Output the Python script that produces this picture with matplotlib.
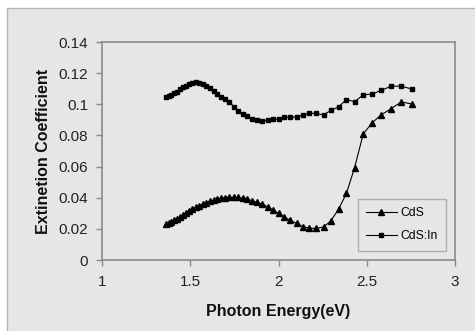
import matplotlib
matplotlib.use("Agg")
import matplotlib.pyplot as plt
from matplotlib.patches import Rectangle

plt.rcParams['font.family'] = ['Liberation Sans', 'DejaVu Sans']

# Photon energy (eV) of each measured point
energy = [1.363, 1.378, 1.393, 1.409, 1.425, 1.442, 1.459, 1.476, 1.494, 1.512,
          1.531, 1.550, 1.570, 1.590, 1.610, 1.632, 1.653, 1.676, 1.699, 1.722,
          1.746, 1.771, 1.797, 1.824, 1.851, 1.879, 1.908, 1.938, 1.968, 2.000,
          2.033, 2.067, 2.102, 2.138, 2.175, 2.214, 2.255, 2.296, 2.340, 2.385,
          2.431, 2.480, 2.531, 2.583, 2.638, 2.696, 2.756]

cds = [0.0232, 0.0240, 0.0246, 0.0254, 0.0262, 0.0274, 0.0288, 0.0302, 0.0316, 0.0330,
       0.0340, 0.0350, 0.0358, 0.0368, 0.0376, 0.0385, 0.0391, 0.0397, 0.0401, 0.0403,
       0.0403, 0.0402, 0.0397, 0.0390, 0.0381, 0.0370, 0.0358, 0.0342, 0.0322, 0.0300,
       0.0276, 0.0255, 0.0235, 0.0215, 0.0204, 0.0203, 0.0212, 0.0250, 0.0326, 0.0428,
       0.0593, 0.0809, 0.0882, 0.0933, 0.0972, 0.1015, 0.1002]

cds_in = [0.1049, 0.1054, 0.1062, 0.1072, 0.1082, 0.1095, 0.1108, 0.1120, 0.1130, 0.1137,
          0.1141, 0.1136, 0.1128, 0.1120, 0.1107, 0.1088, 0.1068, 0.1048, 0.1032, 0.1015,
          0.0985, 0.0960, 0.0940, 0.0922, 0.0908, 0.0897, 0.0890, 0.0900, 0.0903, 0.0904,
          0.0916, 0.0918, 0.0918, 0.0931, 0.0942, 0.0942, 0.0931, 0.0961, 0.0983, 0.1030,
          0.1017, 0.1060, 0.1066, 0.1090, 0.1116, 0.1116, 0.1098]

series_labels = ["CdS", "CdS:In"]
x_ticks = [1, 1.5, 2, 2.5, 3]
x_tick_labels = ["1", "1.5", "2", "2.5", "3"]
y_ticks = [0, 0.02, 0.04, 0.06, 0.08, 0.10, 0.12, 0.14]
y_tick_labels = ["0", "0.02", "0.04", "0.06", "0.08", "0.1", "0.12", "0.14"]

bg = '#e6e6e6'
fig = plt.figure(figsize=(4.75, 3.31), dpi=100, facecolor='white')
fig.patches.append(Rectangle((7/475, -0.01), 1.0, (331-8)/331 + 0.01,
                             transform=fig.transFigure, facecolor=bg,
                             edgecolor='#b4b4b4', linewidth=1.0, zorder=-5))

ax = fig.add_axes([102/475, 71/331, 353/475, 218/331])
ax.set_zorder(1)
ax.set_facecolor(bg)
ax.plot(energy, cds, color='black', linewidth=0.8, marker='^', markersize=4.2,
        label=series_labels[0])
ax.plot(energy, cds_in, color='black', linewidth=0.8, marker='s', markersize=3.4,
        label=series_labels[1])

ax.set_xlim(1, 3)
ax.set_ylim(0, 0.14)
ax.set_xticks(x_ticks)
ax.set_xticklabels(x_tick_labels)
ax.set_yticks(y_ticks)
ax.set_yticklabels(y_tick_labels)
for s in ax.spines.values():
    s.set_color('#8a8a8a')
    s.set_linewidth(1.2)
ax.tick_params(axis='both', direction='out', length=4, width=1, color='#8a8a8a',
               labelsize=11, labelcolor='#222222')
ax.tick_params(axis='x', pad=7)
ax.tick_params(axis='y', pad=6)

ax.set_xlabel("Photon Energy(eV)", fontsize=11.5, fontweight='bold', color='#111111')
ax.set_ylabel("Extinetion Coefficient", fontsize=11.5, fontweight='bold', color='#111111')
ax.xaxis.set_label_coords(0.5, -0.237)
ax.xaxis.label.set_va('center')
ax.yaxis.set_label_coords(-0.167, 0.5)
ax.yaxis.label.set_va('center')

leg = ax.legend(loc='upper left', bbox_to_anchor=(0.725, 0.28), fontsize=8.7,
                frameon=True, fancybox=False, handlelength=2.5, handletextpad=0.3,
                borderpad=0.7, labelspacing=0.9, borderaxespad=0)
leg.get_frame().set_facecolor(bg)
leg.get_frame().set_edgecolor('#a0a0a0')
leg.get_frame().set_linewidth(1.0)

fig.savefig('out.png', dpi=100, facecolor='white')
